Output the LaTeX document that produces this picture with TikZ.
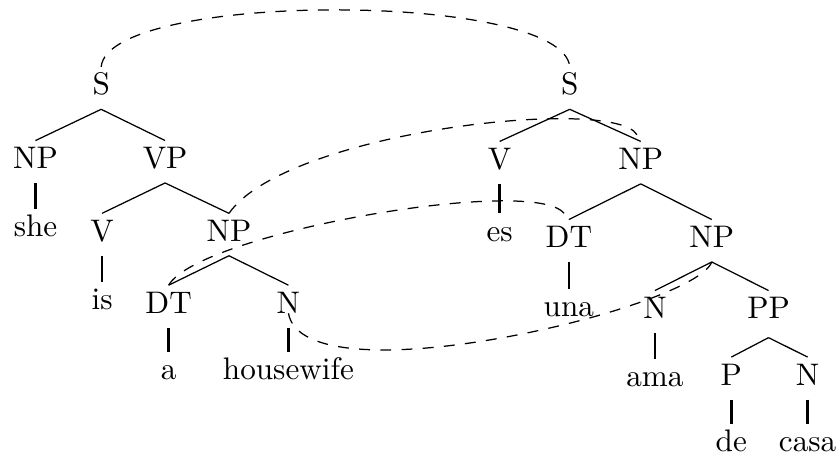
\documentclass[tikz,border=0pt]{standalone}
\usepackage{tikz}
\tikzset{
	cat/.style={%
			anchor=base,%
			inner ysep=2.5pt,%
			text height=6.3pt,%
			text depth=1.9pt},%
	lexedge/.style={thick},%
	linkline/.style={%
			thin,%
			dash pattern=on 3.5pt off 3.3pt},%
}

\begin{document}
\begin{tikzpicture}
	\useasboundingbox (0,0) rectangle (9.42,-5.14);

	% source tree
	\node[cat] (s1) at (1.14,-1.07) {S};
	\node[cat] (np1) at (0.40,-1.90) {NP};
	\node[cat] (vp1) at (1.86,-1.90) {VP};
	\node[cat] (she) at (0.40,-2.67) {she};
	\node[cat] (v1) at (1.15,-2.72) {V};
	\node[cat] (np2) at (2.58,-2.72) {NP};
	\node[cat] (is) at (1.15,-3.49) {is};
	\node[cat] (dt1) at (1.90,-3.53) {DT};
	\node[cat] (n1) at (3.25,-3.53) {N};
	\node[cat] (a) at (1.90,-4.28) {a};
	\node[cat] (housewife) at (3.25,-4.28) {housewife};

	\draw (s1.south) -- (np1.north);
	\draw (s1.south) -- (vp1.north);
	\draw (vp1.south) -- (v1.north);
	\draw (vp1.south) -- (np2.north);
	\draw (np2.south) -- (dt1.north);
	\draw (np2.south) -- (n1.north);
	\draw[lexedge] (np1.south) -- (she.north);
	\draw[lexedge] (v1.south) -- (is.north);
	\draw[lexedge] (dt1.south) -- (a.north);
	\draw[lexedge] (n1.south) -- (housewife.north);

	% target tree
	\node[cat] (s2) at (6.42,-1.07) {S};
	\node[cat] (v2) at (5.63,-1.91) {V};
	\node[cat] (np3) at (7.22,-1.91) {NP};
	\node[cat] (es) at (5.63,-2.72) {es};
	\node[cat] (dt2) at (6.41,-2.79) {DT};
	\node[cat] (np4) at (8.02,-2.79) {NP};
	\node[cat] (una) at (6.41,-3.57) {una};
	\node[cat] (n2) at (7.38,-3.59) {N};
	\node[cat] (pp) at (8.66,-3.59) {PP};
	\node[cat] (ama) at (7.38,-4.36) {ama};
	\node[cat] (p) at (8.24,-4.34) {P};
	\node[cat] (n3) at (9.10,-4.34) {N};
	\node[cat] (de) at (8.24,-5.09) {de};
	\node[cat] (casa) at (9.10,-5.09) {casa};

	\draw (s2.south) -- (v2.north);
	\draw (s2.south) -- (np3.north);
	\draw (np3.south) -- (dt2.north);
	\draw (np3.south) -- (np4.north);
	\draw (np4.south) -- (n2.north);
	\draw (np4.south) -- (pp.north);
	\draw ([yshift=-1.5pt]pp.south) -- (p.north);
	\draw ([yshift=-1.5pt]pp.south) -- (n3.north);
	\draw[lexedge] (v2.south) -- (es.north);
	\draw[lexedge] (dt2.south) -- (una.north);
	\draw[lexedge] (n2.south) -- (ama.north);
	\draw[lexedge] (p.south) -- (de.north);
	\draw[lexedge] (n3.south) -- (casa.north);

	% alignment links
	\draw[linkline] (s1.north) .. controls +(85:0.86) and +(95:0.86) .. (s2.north);
	\draw[linkline, shorten >=2.5pt] (np2.north) .. controls +(55:1.13) and +(120:0.6) .. (np3.north);
	\draw[linkline, shorten >=2.5pt] (dt1.north) .. controls +(60:0.68) and +(128:0.64) .. (dt2.north);
	\draw[linkline] (n1.base) .. controls +(-80:1.01) and +(250:0.56) .. (np4.south);
\end{tikzpicture}
\end{document}
